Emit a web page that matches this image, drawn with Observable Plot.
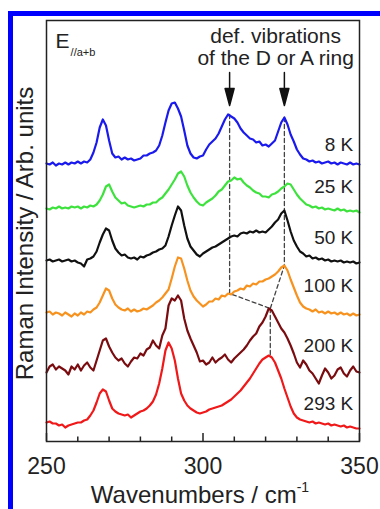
<!DOCTYPE html>
<html><head><meta charset="utf-8">
<script src="https://cdn.jsdelivr.net/npm/d3@7"></script>
<script src="https://cdn.jsdelivr.net/npm/@observablehq/plot@0.6"></script>
<style>
body{margin:0;background:#fff;}
#wrap{position:relative;width:380px;height:509px;overflow:hidden;background:#fff;}
#chart{position:absolute;left:0;top:0;}
#bt{position:absolute;left:8px;top:11px;width:372px;height:5px;background:#0000ff;}
#bl{position:absolute;left:8px;top:11px;width:5px;height:498px;background:#0000ff;}
</style></head>
<body><div id="wrap"><div id="chart"></div><div id="bt"></div><div id="bl"></div></div>
<script>
// Wavenumbers (cm^-1)
const wavenumbers = [
250,251,252,253,254,255,256,257,258,259,
260,261,262,263,264,265,266,267,268,269,
270,271,272,273,274,275,276,277,278,279,
280,281,282,283,284,285,286,287,288,289,
290,291,292,293,294,295,296,297,298,299,
300,301,302,303,304,305,306,307,308,309,
310,311,312,313,314,315,316,317,318,319,
320,321,322,323,324,325,326,327,328,329,
330,331,332,333,334,335,336,337,338,339,
340,341,342,343,344,345,346,347,348,349,350];

// Raman intensity (arb. units, curves offset vertically)
const intensity8K = [
278,277,279,276,278,277,279,277,279,278,
280,278,280,279,282,289,299,314,322,316,
301,288,284,285,282,284,282,283,281,282,
283,286,286,288,289,291,296,306,319,331,
338,339,333,325,311,296,288,284,283,285,
286,292,297,300,303,308,315,322,327,325,
323,319,313,309,306,303,302,299,300,296,
297,295,298,301,310,319,324,317,307,300,
292,287,283,282,280,281,279,280,278,279,
280,278,279,277,279,278,277,279,277,278,277];
const intensity25K = [
233,232,234,233,235,233,234,233,235,234,
235,233,235,234,236,235,237,241,247,255,
257,250,244,241,238,239,236,235,234,235,
236,235,237,237,239,239,242,244,248,252,
257,262,268,270,265,256,249,244,240,237,
236,239,241,243,246,250,252,256,260,261,
264,262,263,259,256,254,251,249,248,245,
245,244,247,248,250,253,255,258,257,252,
247,243,240,237,236,234,235,233,234,232,
233,232,231,233,231,232,230,231,230,231,229];
const intensity50K = [
181,182,180,181,182,180,181,182,180,181,
179,178,175,182,183,185,190,199,207,213,
211,201,193,189,186,187,184,183,184,182,
185,184,186,187,189,190,192,193,196,205,
216,226,235,231,216,203,195,191,187,185,
188,190,192,194,195,197,199,201,203,205,
206,205,208,209,208,210,209,211,209,210,
209,212,215,219,222,228,231,221,210,201,
195,190,188,185,186,183,184,182,183,181,
182,180,181,180,181,179,180,179,180,178,179];
const intensity100K = [
129,130,127,129,128,126,129,127,125,128,
126,129,127,130,129,132,134,139,146,153,
151,143,137,134,132,131,133,130,132,130,
131,133,132,134,136,139,141,144,148,152,
163,175,184,183,173,161,151,145,141,138,
135,137,140,140,143,142,146,145,148,147,
150,151,153,152,156,155,158,157,160,160,
162,163,165,167,170,174,176,171,162,154,
146,139,135,133,132,130,132,129,130,128,
130,128,129,127,129,127,128,126,128,126,127];
const intensity200K = [
69,75,77,72,75,73,71,67,75,72,
77,71,76,79,74,71,81,91,101,103,
95,89,84,81,83,78,75,80,84,83,
88,86,92,94,101,96,93,106,113,136,
143,141,146,141,123,111,103,96,89,80,
81,77,79,84,79,82,84,87,82,79,
83,86,89,92,96,101,105,108,115,119,
125,133,131,125,119,113,109,103,96,88,
79,74,81,77,71,68,63,58,66,73,
69,63,66,72,74,68,65,71,75,70,69];
const intensity293K = [
19,20,18,18,16,17,14,16,17,18,
19,19,21,22,26,31,39,48,52,50,
41,33,30,28,27,26,27,24,26,28,
30,31,33,36,40,47,58,73,91,99,
93,81,63,48,41,36,33,31,29,28,
29,30,32,33,34,35,36,38,40,42,
45,48,51,55,59,63,68,73,78,82,
84,86,84,79,71,63,53,44,35,28,
24,22,21,20,19,20,18,19,18,17,
18,16,17,16,15,16,14,15,14,13,13];

const temperatures = ["8 K", "25 K", "50 K", "100 K", "200 K", "293 K"];
const seriesColors = ["#1a1aee", "#3de23d", "#111111", "#f7921e", "#7a0c10", "#f01818"];
const labelY = [297, 255, 204, 156, 96, 38];
const labelX = [348, 348, 348, 348, 348, 348];

const majorTicks = [250, 300, 350];
const minorTicks = [260, 270, 280, 290, 310, 320, 330, 340];

// peak-tracking guides (wavenumber, intensity)
const guideLeft = [[308.5, 327], [308.5, 148], [321.5, 133]];
const guideRight = [[326, 324], [326, 176], [321.5, 133]];
const guideDown = [[321.5, 133], [321.5, 86]];
const arrowX = [308.5, 326];
const arrowTipY = [336, 336];

const allSeries = [intensity8K, intensity25K, intensity50K, intensity100K, intensity200K, intensity293K];
const rows = allSeries.flatMap((vals, k) => wavenumbers.map((w, i) => ({w, v: vals[i], T: temperatures[k]})));
const guides = [guideLeft, guideRight, guideDown].flatMap((g, k) => g.map(([w, v]) => ({w, v, g: k})));

const arrowShape = {
  draw(context, l) {
    context.moveTo(0, 0);
    context.lineTo(0, -l + 15);
    context.moveTo(0, -l);
    context.lineTo(-4.5, -l + 17);
    context.lineTo(4.5, -l + 17);
    context.closePath();
  }
};

const font = "'Liberation Sans', Arial, Helvetica, sans-serif";
const chart = Plot.plot({
  width: 380, height: 509,
  marginLeft: 46, marginRight: 21, marginTop: 20, marginBottom: 68,
  style: {fontFamily: font, color: "#222", background: "transparent"},
  x: {domain: [250, 350]},
  y: {domain: [0, 421], axis: null},
  color: {domain: temperatures, range: seriesColors},
  marks: [
    Plot.line(guides, {x: "w", y: "v", z: "g", stroke: "#444", strokeWidth: 1.3, strokeDasharray: "4,3"}),
    Plot.line(rows, {x: "w", y: "v", z: "T", stroke: "T", strokeWidth: 2.2}),
    Plot.vector(arrowX, {x: d => d, y: (d, i) => arrowTipY[i], length: 33, rotate: 180, anchor: "end", shape: arrowShape, stroke: "#111", fill: "#111", strokeWidth: 1.5}),
    // inward ticks (tick length expressed in intensity units: 1 unit = 1 px here)
    Plot.ruleX(minorTicks, {x: d => d, y1: 0, y2: 4.5, stroke: "#222", strokeWidth: 1.5}),
    Plot.ruleX(majorTicks, {x: d => d, y1: 0, y2: 8, stroke: "#222", strokeWidth: 1.5}),
    Plot.axisX({ticks: majorTicks, tickSize: 0, tickPadding: 16, fontSize: 23, label: null, tickFormat: d => String(d), fill: "#222"}),
    Plot.text(temperatures, {x: labelX, y: labelY, text: d => d, textAnchor: "end", lineAnchor: "middle", fontSize: 19, fill: "#222"}),
    Plot.text(["def. vibrations\nof the D or A ring"], {x: [323.2], y: [394.5], textAnchor: "middle", lineAnchor: "middle", lineHeight: 1.05, fontSize: 21, fill: "#222"}),
    Plot.text(["E"], {x: [252.9], y: [394], textAnchor: "start", lineAnchor: "bottom", fontSize: 21, fill: "#222"}),
    Plot.text(["//a+b"], {x: [257.7], y: [386], textAnchor: "start", lineAnchor: "bottom", fontSize: 11, fill: "#222"}),
    Plot.text(["Wavenumbers / cm-1"], {frameAnchor: "bottom", textAnchor: "middle", dx: -3, dy: 54, lineAnchor: "middle", fontSize: 24, fill: "#222"}),
    Plot.text(["Raman Intensity / Arb. units"], {frameAnchor: "left", textAnchor: "middle", dx: -21, dy: 2.5, rotate: -90, lineAnchor: "middle", fontSize: 24, fill: "#222"}),
    Plot.frame({stroke: "#222", strokeWidth: 1.5})
  ]
});
d3.select(chart).selectAll("text").filter(function() { return this.textContent === "Wavenumbers / cm-1"; })
  .each(function() {
    const t = d3.select(this);
    t.text("Wavenumbers / cm");
    t.append("tspan").attr("dy", -11).attr("font-size", 14).text("-1");
  });
document.getElementById("chart").appendChild(chart);
</script>
</body></html>
